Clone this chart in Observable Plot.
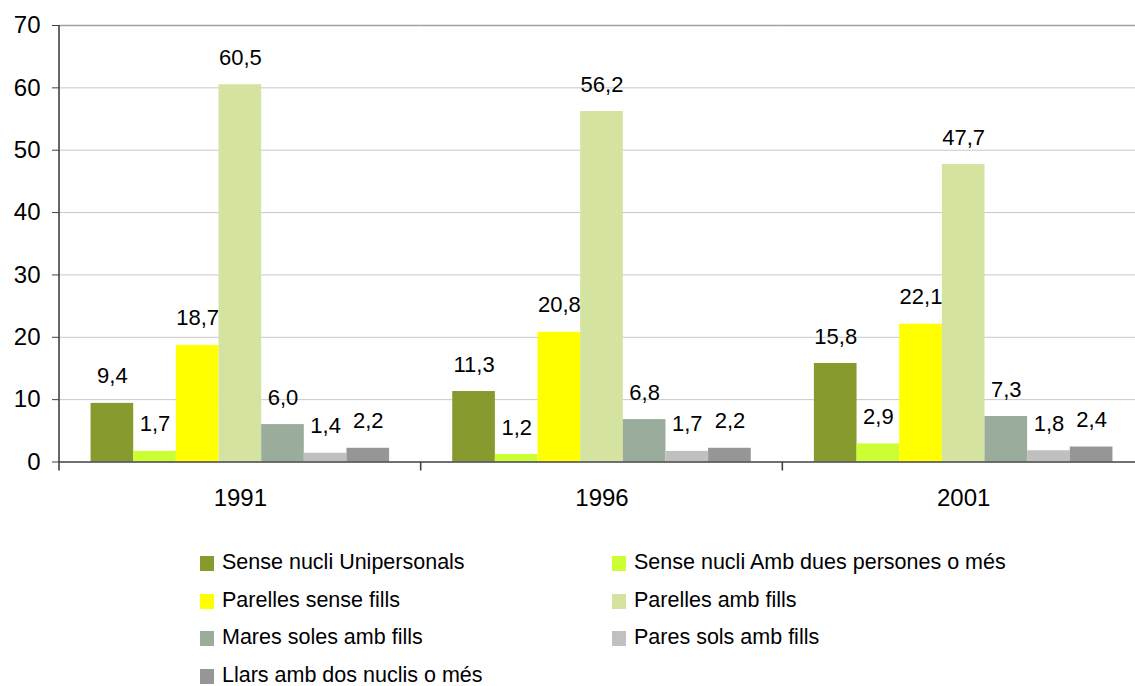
<!DOCTYPE html>
<html>
<head>
<meta charset="utf-8">
<script src="https://cdn.jsdelivr.net/npm/d3@7"></script>
<script src="https://cdn.jsdelivr.net/npm/@observablehq/plot@0.6"></script>
<style>
  html, body { margin: 0; padding: 0; background: #fff; overflow: hidden; }
  #wrap { width: 1135px; height: 686px; overflow: hidden; position: relative; font-family: "Liberation Sans", Arial, sans-serif; }
  #chart svg { display: block; max-width: none !important; }
  #legend { position: absolute; left: 0; top: 0; width: 1135px; height: 686px; pointer-events: none; }
  .item { position: absolute; display: flex; align-items: center; height: 22px; line-height: 22px; font-size: 21.5px; color: #000; white-space: nowrap; }
  .sw { width: 14px; height: 15px; margin-right: 8px; flex: none; margin-top: 3px; }
</style>
</head>
<body>
<div id="wrap">
  <div id="chart"></div>
  <div id="legend"></div>
</div>
<script>
const years = ["1991", "1996", "2001"];
const series = [
  "Sense nucli Unipersonals",
  "Sense nucli Amb dues persones o més",
  "Parelles sense fills",
  "Parelles amb fills",
  "Mares soles amb fills",
  "Pares sols amb fills",
  "Llars amb dos nuclis o més"
];
const colors = ["#869A2E", "#CCFF33", "#FFFF00", "#D4E3A0", "#9AAD9C", "#C0C0C0", "#969696"];
const values1991 = [9.4, 1.7, 18.7, 60.5, 6.0, 1.4, 2.2];
const values1996 = [11.3, 1.2, 20.8, 56.2, 6.8, 1.7, 2.2];
const values2001 = [15.8, 2.9, 22.1, 47.7, 7.3, 1.8, 2.4];
const yTicks = [0, 10, 20, 30, 40, 50, 60, 70];

const byYear = [values1991, values1996, values2001];
const rows = years.flatMap((yr, j) => series.map((s, i) => ({year: yr, series: s, value: byYear[j][i]})));
const fmt = v => v.toFixed(1).replace(".", ",");

const chart = Plot.plot({
  width: 1144,
  height: 530,
  marginLeft: 59,
  marginRight: 0,
  marginTop: 25,
  marginBottom: 68.5,
  style: {fontFamily: "'Liberation Sans', Arial, sans-serif", fontSize: "21px", background: "#fff", color: "#000", overflow: "visible", maxWidth: "none"},
  fx: {domain: years, padding: 0, round: false, label: null},
  x: {domain: series, paddingInner: 0, paddingOuter: 0.74, round: false, axis: null},
  y: {domain: [0, 70], label: null},
  color: {domain: series, range: colors},
  marks: [
    Plot.gridY(yTicks.filter(t => t > 0 && t < 70), {stroke: "#c8c8c8", strokeOpacity: 1, strokeWidth: 1}),
    Plot.gridY([70], {stroke: "#a0a0a0", strokeOpacity: 1, strokeWidth: 1.5}),
    Plot.barY(rows, {fx: "year", x: "series", y: "value", fill: "series"}),
    Plot.text(rows, {fx: "year", x: "series", y: "value", text: d => fmt(d.value), dy: -27, fontSize: 22, fill: "#000"}),
    Plot.ruleY([0], {stroke: "#404040", strokeWidth: 1.6}),
    Plot.axisY(yTicks, {tickSize: 7, tickPadding: 12, fontSize: 24, label: null, stroke: "#404040"}),
    Plot.axisFx({anchor: "bottom", tickSize: 0, tickPadding: 27, fontSize: 24, label: null})
  ]
});
document.getElementById("chart").appendChild(chart);

// axis line and group separators from the library's scales
const fxS = chart.scale("fx");
const yS = chart.scale("y");
const svg = d3.select(chart);
const y0 = yS.apply(0), yTop = yS.apply(70);
const g = svg.append("g").attr("stroke", "#404040").attr("stroke-width", 1.6);
const left = fxS.apply(years[0]);
g.append("line").attr("x1", left).attr("x2", left).attr("y1", yTop).attr("y2", y0 + 9);
years.forEach(yr => {
  const xe = fxS.apply(yr) + fxS.bandwidth;
  g.append("line").attr("x1", xe).attr("x2", xe).attr("y1", y0).attr("y2", y0 + 9);
});

// legend
const legend = d3.select("#legend");
series.forEach((s, i) => {
  const col = i % 2, row = Math.floor(i / 2);
  const it = legend.append("div").attr("class", "item")
    .style("left", (col ? 612 : 200) + "px")
    .style("top", (551 + row * 37.5) + "px");
  it.append("div").attr("class", "sw").style("background", colors[i]);
  it.append("span").text(s);
});
</script>
</body>
</html>
